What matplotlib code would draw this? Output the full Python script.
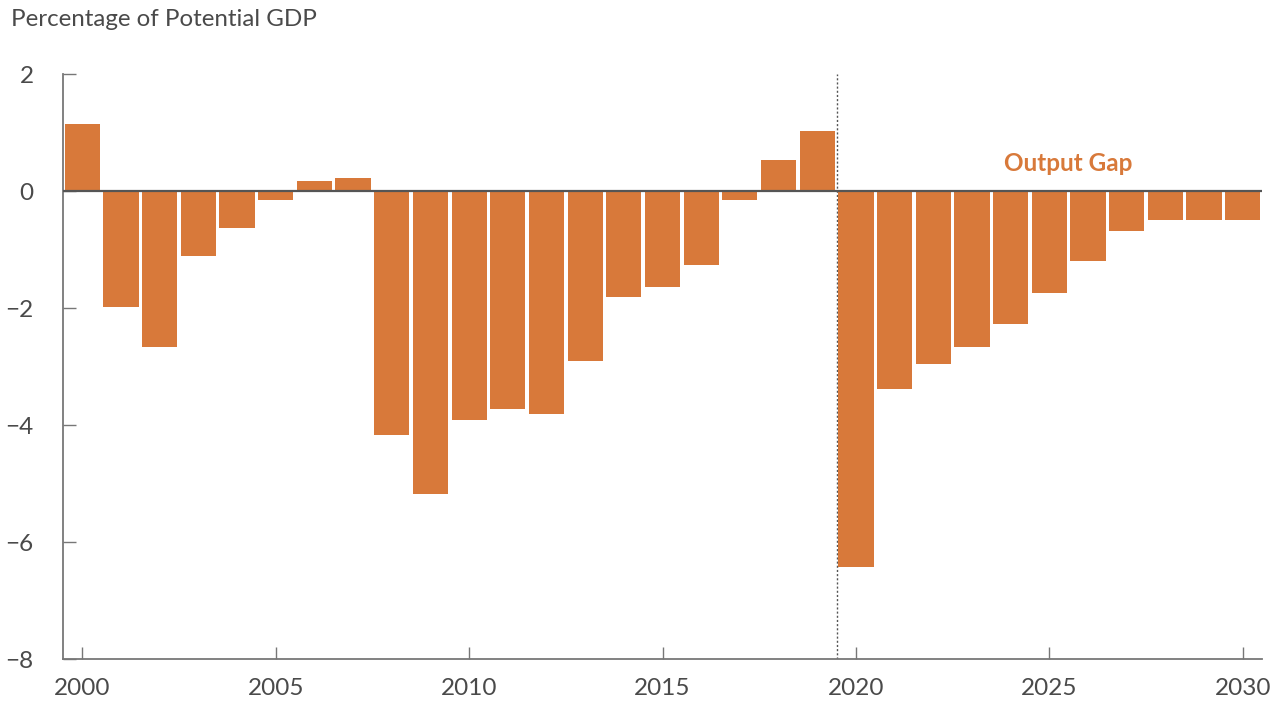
import matplotlib.pyplot as plt
import numpy as np

plt.rcParams['font.family'] = ['Lato', 'DejaVu Sans']

# output gap, percentage of potential GDP
years = list(range(2000, 2031))
gap = [1.15, -1.98, -2.67, -1.11, -0.63, -0.15, 0.17, 0.22,
       -4.17, -5.18, -3.91, -3.73, -3.81, -2.91, -1.81, -1.64,
       -1.26, -0.15, 0.53, 1.03, -6.43, -3.38, -2.96, -2.67,
       -2.27, -1.74, -1.20, -0.68, -0.50, -0.50, -0.50]
xticks = [2000, 2005, 2010, 2015, 2020, 2025, 2030]
yticks = [2, 0, -2, -4, -6, -8]

orange = '#D8793A'
grey = '#777777'
txt = '#4a4a4a'

fig = plt.figure(figsize=(12.77, 7.11), dpi=100)
ax = fig.add_axes([0.0493, 0.0731, 0.939, 0.8228])

ax.bar(years, gap, width=0.91, color=orange, zorder=2)
ax.axhline(0, color='#555555', lw=1.6, zorder=3)
ax.axvline(2019.5, color='#555555', lw=1, ls=(0, (1.5, 1.5)), zorder=1)

ax.set_xlim(1999.5, 2030.5)
ax.set_ylim(-8, 2)
ax.set_xticks(xticks)
ax.set_yticks(yticks)
ax.set_yticklabels(['2', '0', '\u22122', '\u22124', '\u22126', '\u22128'])

for s in ['top', 'right']:
    ax.spines[s].set_visible(False)
for s in ['left', 'bottom']:
    ax.spines[s].set_color(grey)
    ax.spines[s].set_linewidth(1.3)

ax.tick_params(axis='both', direction='in', length=9, width=1, color=grey,
               labelsize=17.5, labelcolor=txt)
ax.tick_params(axis='y', pad=21)
ax.tick_params(axis='x', pad=14)

ax.text(2025.5, 0.47, 'Output Gap', color=orange, fontsize=17.5,
        fontweight='bold', ha='center', va='center')

fig.text(0.009, 0.972, 'Percentage of Potential GDP', fontsize=17.4,
         color=txt, ha='left', va='center')

plt.savefig('out.png')
